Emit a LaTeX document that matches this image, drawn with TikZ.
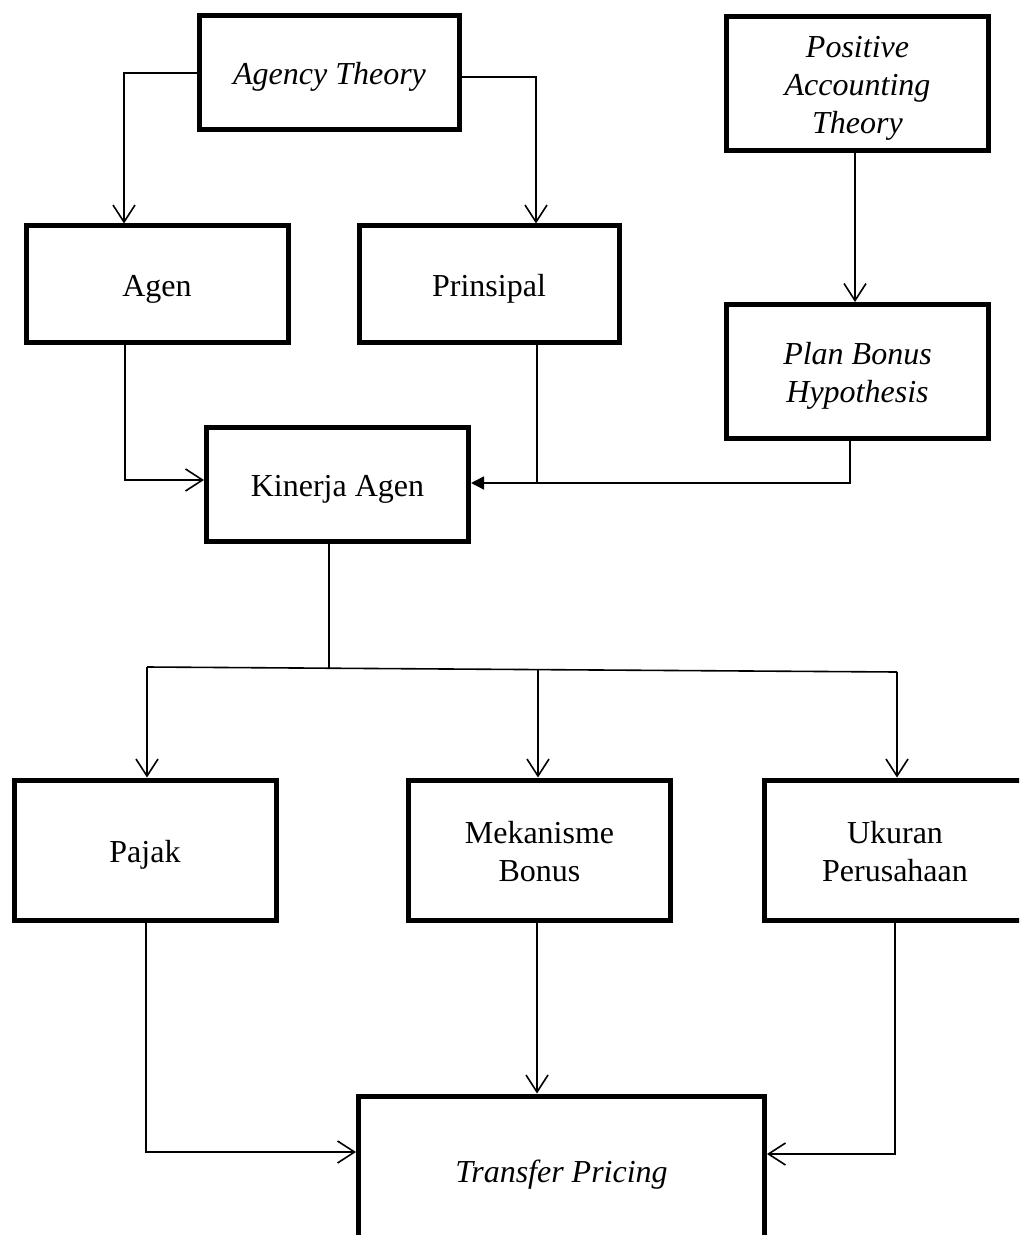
\documentclass[tikz,border=0pt]{standalone}
\usepackage{fontspec}
\setmainfont{Liberation Serif}
\usetikzlibrary{arrows.meta}
\newcommand\bxt[1]{\raisebox{-2.4pt}[\height][\depth]{\begin{tabular}{@{}c@{}}#1\end{tabular}}}
\begin{document}
\begin{tikzpicture}[x=0.5pt,y=-0.5pt,
  box/.style={draw,line width=2.5pt,inner sep=0pt,
    font=\fontsize{16}{19}\selectfont},
  conn/.style={line width=0.8pt},
  arr/.style={conn,-{Straight Barb[length=8.5pt,width=11pt]}},
  farr/.style={conn,-{Triangle[length=6.5pt,width=6.5pt]}}]
\useasboundingbox (0,0) rectangle (1019,1235);
\clip (0,0) rectangle (1019,1235);
\fill[white] (0,0) rectangle (1019,1235);
% boxes
\node[box,minimum width=130pt,minimum height=57pt] (at) at (329.5,72.5) {\bxt{\itshape Agency Theory}};
\node[box,minimum width=131pt,minimum height=67pt] (pat) at (857.5,83.5) {\bxt{\itshape Positive\\\itshape Accounting\\\itshape Theory}};
\node[box,minimum width=131pt,minimum height=58pt] (agen) at (157,284) {\bxt{Agen}};
\node[box,minimum width=130pt,minimum height=58pt] (prin) at (489,284) {\bxt{Prinsipal}};
\node[box,minimum width=131pt,minimum height=67pt] (pbh) at (857.5,371.5) {\bxt{\itshape Plan Bonus\\\itshape Hypothesis}};
\node[box,minimum width=131pt,minimum height=57pt] (kin) at (337.5,484) {\bxt{Kinerja Agen}};
\node[box,minimum width=131pt,minimum height=70pt] (pajak) at (145,850) {\bxt{Pajak}};
\node[box,minimum width=131pt,minimum height=70pt] (mek) at (539.5,850) {\bxt{Mekanisme\\Bonus}};
\node[box,minimum width=131pt,minimum height=70pt] (uk) at (895,850) {\bxt{Ukuran\\Perusahaan}};
\node[box,minimum width=203pt,minimum height=74pt] (tp) at (561.5,1170) {\bxt{\itshape Transfer Pricing}};
% helper coordinates
\coordinate (atl) at (124,73);
\coordinate (atr) at (536,77);
\coordinate (agx) at (125,480);
\coordinate (prj) at (537,483);
\coordinate (pbx) at (850,483);
\coordinate (hub) at (329,669);
\coordinate (bl) at (147,667);
\coordinate (bm) at (538,670);
\coordinate (br) at (897,672);
\coordinate (pj) at (146,1152);
\coordinate (ukj) at (895,1154);
% connectors
\draw[arr] (at.west |- atl) -- (atl) -- (atl |- agen.north);
\draw[arr] (at.east |- atr) -- (atr) -- (atr |- prin.north);
\draw[arr] (pat.south -| 855,0) -- (pbh.north -| 855,0);
\draw[arr] (agen.south -| agx) -- (agx) -- (agx -| kin.west);
\draw[conn] (prin.south -| prj) -- (prj);
\draw[farr] (pbh.south -| pbx) -- (pbx) -- (pbx -| kin.east);
\draw[conn] (kin.south -| hub) -- (hub);
\draw[conn] (bl) -- (br);
\draw[arr] (bl) -- (bl |- pajak.north);
\draw[arr] (bm) -- (bm |- mek.north);
\draw[arr] (br) -- (br |- uk.north);
\draw[arr] (pajak.south -| pj) -- (pj) -- (pj -| tp.west);
\draw[arr] (mek.south -| 537,0) -- (tp.north -| 537,0);
\draw[arr] (uk.south -| ukj) -- (ukj) -- (ukj -| tp.east);
\end{tikzpicture}
\end{document}
